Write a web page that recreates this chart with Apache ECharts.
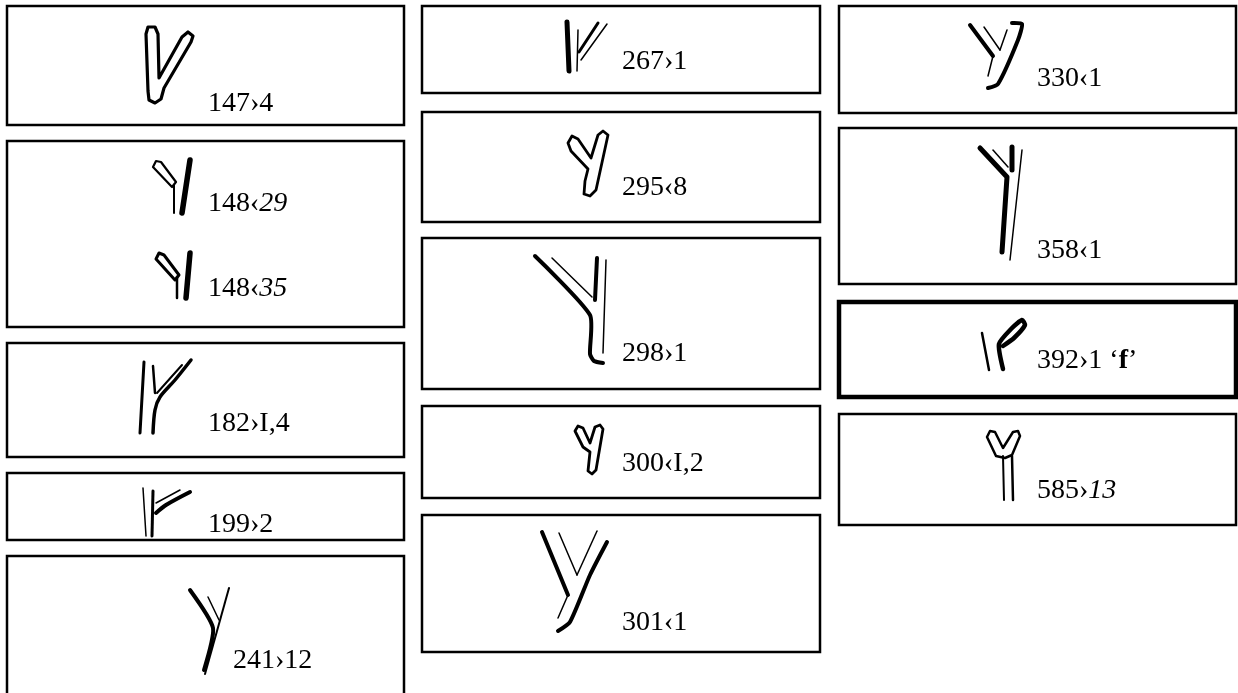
<!DOCTYPE html>
<html>
<head>
<meta charset="utf-8">
<script src="https://cdn.jsdelivr.net/npm/echarts@6/dist/echarts.min.js"></script>
<style>
  html, body { margin: 0; padding: 0; background: #fff; }
  #chart { width: 1238px; height: 693px; }
</style>
</head>
<body>
<div id="chart"></div>
<script>
// ---- data: the catalogue labels of the rune forms ----
const catalogNo      = ['147','148','148','182','199','241','267','295','298','300','301','330','358','392','585'];
const direction      = ['›','‹','‹','›','›','›','›','‹','›','‹','‹','‹','‹','›','›'];
const position       = ['4','29','35','I,4','2','12','1','8','1','I,2','1','1','1','1','13'];
const positionItalic = [false,true,true,false,false,false,false,false,false,false,false,false,false,false,true];
const gloss          = ['','','','','','','','','','','','','','f',''];

// ---- layout (reference pixel space, mapped through hidden value axes) ----
const boxes = [
  [7,6,404,125,2.5],[7,141,404,327,2.5],[7,343,404,457,2.5],[7,473,404,540,2.5],[7,556,404,712,2.5],
  [422,6,820,93,2.5],[422,112,820,222,2.5],[422,238,820,389,2.5],[422,406,820,498,2.5],[422,515,820,652,2.5],
  [839,6,1236,113,2.5],[839,128,1236,284,2.5],[839,302,1236,397,4.5],[839,414,1236,525,2.5]
];
const labelAnchor = [
  [208,113],[208,213],[208,298],[208,433],[208,534],[233,670],
  [622,71],[622,197],[622,363],[622,473],[622,632],
  [1037,88],[1037,260],[1037,370],[1037,500]
];
// glyph drawings: strokes (p = points, w = width, c = closed outline, s = smoothing)
const glyphStrokes = [
  [ {c:1,w:3.2,p:[[146,34],[148,27],[155,27],[158,34],[159,78],[182,37],[188,32],[193,36],[191,42],[164,88],[161,99],[155,103],[149,100],[148,91]]} ],
  [ {c:1,w:2.2,p:[[153,167],[156,161],[161,162],[176,182],[172,187]]},
    {w:2,p:[[174,185],[174,213]]},
    {w:5.5,p:[[190,160],[182,213]]} ],
  [ {c:1,w:3,p:[[156,259],[159,253],[164,255],[179,275],[175,280]]},
    {w:2.5,p:[[177,277],[177,298]]},
    {w:5.5,p:[[190,253],[186,298]]} ],
  [ {w:3,p:[[144,362],[140,433]]},
    {w:3.5,s:0.3,p:[[191,360],[175,380],[160,397],[155,410],[153,433]]},
    {w:2.5,p:[[153,366],[155,393]]},
    {w:2,p:[[182,365],[157,393]]} ],
  [ {w:1.5,p:[[143,488],[146,536]]},
    {w:3,p:[[153,491],[152,536]]},
    {w:4,s:0.3,p:[[190,492],[166,505],[156,513]]},
    {w:1.5,p:[[180,490],[156,503]]} ],
  [ {w:4,s:0.2,p:[[190,590],[213,628],[204,670]]},
    {w:1.5,p:[[208,597],[219,620]]},
    {w:2,p:[[229,588],[205,674]]} ],
  [ {w:5,p:[[567,22],[569,71]]},
    {w:1.5,p:[[578,30],[577,71]]},
    {w:3,p:[[598,23],[579,52]]},
    {w:1.5,p:[[607,24],[581,60]]} ],
  [ {c:1,w:2.8,p:[[568,143],[572,136],[578,139],[591,158],[598,135],[603,131],[608,135],[596,190],[590,196],[584,194],[585,181],[588,169],[571,151]]} ],
  [ {w:4,s:0.2,p:[[535,256],[590,315],[590,354],[594,361],[603,363]]},
    {w:1.5,p:[[552,258],[592,297]]},
    {w:4,p:[[597,258],[595,300]]},
    {w:1.5,p:[[606,260],[603,353]]} ],
  [ {c:1,w:2.8,p:[[575,431],[578,426],[583,428],[590,443],[595,427],[600,425],[603,429],[596,470],[592,474],[588,471],[590,452],[583,447]]} ],
  [ {w:4,p:[[542,532],[568,595]]},
    {w:1.5,p:[[568,595],[558,618]]},
    {w:1.5,p:[[559,533],[577,575]]},
    {w:1.5,p:[[597,531],[577,575]]},
    {w:4,s:0.2,p:[[607,542],[590,575],[570,622],[558,631]]} ],
  [ {w:4,p:[[970,25],[993,56]]},
    {w:1.5,p:[[993,56],[988,76]]},
    {w:1.5,p:[[984,27],[1000,50]]},
    {w:1.5,p:[[1007,30],[1000,50]]},
    {w:4,s:0.2,p:[[1012,23],[1022,24],[1018,40],[998,84],[988,88]]} ],
  [ {w:5,p:[[980,148],[1007,177],[1002,252]]},
    {w:1.5,p:[[993,150],[1008,167]]},
    {w:5,p:[[1012,147],[1012,170]]},
    {w:1.5,p:[[1022,150],[1010,260]]} ],
  [ {w:2.5,p:[[982,333],[989,370]]},
    {w:4.5,s:0.2,p:[[1003,369],[999,344],[1012,328],[1022,320],[1025,325],[1014,338],[1003,346]]} ],
  [ {c:1,w:2.5,p:[[987,437],[990,431],[995,432],[1003,448],[1013,432],[1018,431],[1020,436],[1012,455],[1005,458],[996,456]]},
    {w:2,p:[[1003,456],[1004,500]]},
    {w:2.5,p:[[1012,456],[1013,500]]} ]
];

const FONT = "'Liberation Serif','Times New Roman',serif";
const FS = 28;

function boxItem(params, api) {
  const b = boxes[params.dataIndex];
  const p1 = api.coord([b[0], b[1]]);
  const p2 = api.coord([b[2], b[3]]);
  return {
    type: 'rect',
    shape: { x: p1[0], y: p1[1], width: p2[0] - p1[0], height: p2[1] - p1[1] },
    style: { fill: '#fff', stroke: '#000', lineWidth: b[4] }
  };
}

function glyphItem(params, api) {
  const i = params.dataIndex;
  const children = [];
  glyphStrokes[i].forEach(function (s) {
    const pts = s.p.map(function (q) { return api.coord(q); });
    if (s.c) {
      children.push({ type: 'polygon', shape: { points: pts },
        style: { fill: '#fff', stroke: '#000', lineWidth: s.w, lineJoin: 'round' } });
    } else {
      children.push({ type: 'polyline', shape: { points: pts, smooth: s.s || 0 },
        style: { fill: null, stroke: '#000', lineWidth: s.w, lineCap: 'round', lineJoin: 'round' } });
    }
  });
  const a = api.coord(labelAnchor[i]);
  let text = '{n|' + catalogNo[i] + direction[i] + '}' +
    (positionItalic[i] ? '{i|' + position[i] + '}' : '{n|' + position[i] + '}');
  if (gloss[i]) text += '{n| ‘}{b|' + gloss[i] + '}{n|’}';
  children.push({
    type: 'text', x: a[0], y: a[1] - 0.34 * FS,
    style: {
      text: text, align: 'left', verticalAlign: 'middle',
      rich: {
        n: { fontFamily: FONT, fontSize: FS, fill: '#000' },
        i: { fontFamily: FONT, fontSize: FS, fontStyle: 'italic', fill: '#000' },
        b: { fontFamily: FONT, fontSize: FS, fontWeight: 'bold', fill: '#000' }
      }
    }
  });
  return { type: 'group', children: children };
}

const chart = echarts.init(document.getElementById('chart'), null, { renderer: 'canvas' });
chart.setOption({
  animation: false,
  backgroundColor: '#fff',
  grid: { left: 0, right: 0, top: 0, bottom: 0 },
  xAxis: { type: 'value', min: 0, max: 1238, show: false },
  yAxis: { type: 'value', min: 0, max: 693, inverse: true, show: false },
  series: [
    { type: 'custom', renderItem: boxItem, clip: false, silent: true,
      data: boxes.map(function (b, k) { return [k, k]; }) },
    { type: 'custom', renderItem: glyphItem, clip: false, silent: true,
      data: catalogNo.map(function (c, k) { return [k, k]; }) }
  ]
});
</script>
</body>
</html>
